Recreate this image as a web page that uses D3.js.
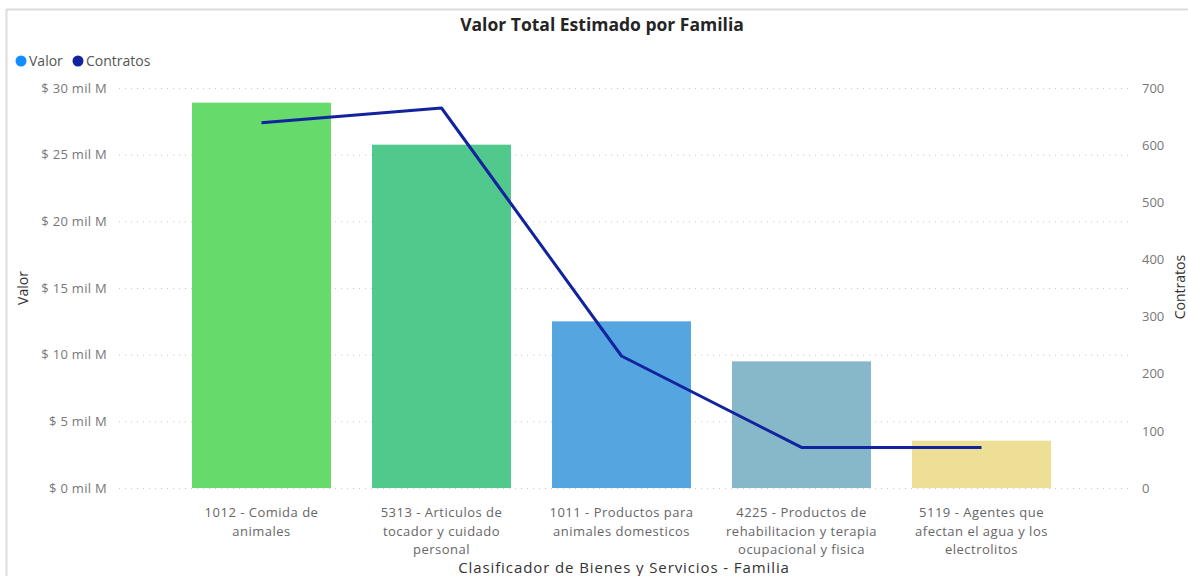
<!DOCTYPE html>
<html>
<head>
<meta charset="utf-8">
<script src="https://cdn.jsdelivr.net/npm/d3@7"></script>
<style>
  body { margin: 0; background: #fff; }
  svg { display: block; }
</style>
</head>
<body>
<script>
// data
const categories = [
  "1012 - Comida de animales",
  "5313 - Articulos de tocador y cuidado personal",
  "1011 - Productos para animales domesticos",
  "4225 - Productos de rehabilitacion y terapia ocupacional y fisica",
  "5119 - Agentes que afectan el agua y los electrolitos"
];
// label lines as wrapped in the picture
const categoryLines = [
  ["1012 - Comida de", "animales"],
  ["5313 - Articulos de", "tocador y cuidado", "personal"],
  ["1011 - Productos para", "animales domesticos"],
  ["4225 - Productos de", "rehabilitacion y terapia", "ocupacional y fisica"],
  ["5119 - Agentes que", "afectan el agua y los", "electrolitos"]
];
const valorMilM = [28.9, 25.75, 12.5, 9.5, 3.55];   // $ mil M
const contratos = [639, 665, 231, 71, 71];
const barColors = ["#66DA6A", "#52C98C", "#55A6E0", "#86B8C9", "#EDDF96"];
const leftTicks = [0, 5, 10, 15, 20, 25, 30];
const rightTicks = [0, 100, 200, 300, 400, 500, 600, 700];

const W = 1188, H = 576;
const font = "'Open Sans', 'Noto Sans', sans-serif";

let svg = d3.select("body").append("svg")
  .attr("width", W).attr("height", H)
  .style("font-family", font);

// frame lines (visual container edge)
svg.append("line").attr("x1", 6).attr("x2", W).attr("y1", 9.5).attr("y2", 9.5)
  .attr("stroke", "#dcdcdc").attr("stroke-width", 2);
svg.append("line").attr("x1", 6.5).attr("x2", 6.5).attr("y1", 9).attr("y2", H)
  .attr("stroke", "#dcdcdc").attr("stroke-width", 2);

// scales
let x = d3.scaleBand()
  .domain(categories)
  .range([171.5, 1071.5])
  .paddingInner(0.228)
  .paddingOuter(0.114);

let yL = d3.scaleLinear().domain([0, 30]).range([488, 88]);
let yR = d3.scaleLinear().domain([0, 700]).range([488, 88]);

// gridlines (dotted)
svg.append("g").selectAll("line")
  .data(leftTicks)
  .join("line")
  .attr("x1", 119).attr("x2", 1128)
  .attr("y1", d => yL(d) + 0.5).attr("y2", d => yL(d) + 0.5)
  .attr("stroke", "#c8c8c8")
  .attr("stroke-width", 1)
  .attr("stroke-dasharray", "1,5");

// left axis labels
let axL = svg.append("g").attr("transform", "translate(107,0)")
  .call(d3.axisLeft(yL).tickValues(leftTicks).tickSize(0).tickPadding(0)
    .tickFormat(d => "$ " + d + " mil M"));
axL.select(".domain").remove();
axL.selectAll("text").attr("fill", "#777").style("font-size", "13px")
  .style("letter-spacing", "0.3px").style("font-family", font);

// right axis labels
let axR = svg.append("g").attr("transform", "translate(1142,0)")
  .call(d3.axisRight(yR).tickValues(rightTicks).tickSize(0).tickPadding(0));
axR.select(".domain").remove();
axR.selectAll("text").attr("fill", "#777").style("font-size", "13px").style("font-family", font);

// bars
svg.append("g").selectAll("rect")
  .data(categories)
  .join("rect")
  .attr("x", d => x(d))
  .attr("width", x.bandwidth())
  .attr("y", (d, i) => yL(valorMilM[i]))
  .attr("height", (d, i) => yL(0) - yL(valorMilM[i]))
  .attr("fill", (d, i) => barColors[i]);

// line
let line = d3.line()
  .x((d, i) => x(categories[i]) + x.bandwidth() / 2)
  .y(d => yR(d));
svg.append("path")
  .datum(contratos)
  .attr("d", line)
  .attr("fill", "none")
  .attr("stroke", "#12239E")
  .attr("stroke-width", 3)
  .attr("stroke-linejoin", "round");

// x category labels
let xl = svg.append("g");
categories.forEach((c, i) => {
  let t = xl.append("text")
    .attr("x", x(c) + x.bandwidth() / 2)
    .attr("y", 517)
    .attr("text-anchor", "middle")
    .attr("fill", "#666")
    .style("font-size", "13px")
    .style("letter-spacing", "0.5px");
  categoryLines[i].forEach((ln, j) => {
    t.append("tspan").attr("x", x(c) + x.bandwidth() / 2).attr("dy", j === 0 ? 0 : 18.5).text(ln);
  });
});

// title
svg.append("text")
  .attr("x", 602).attr("y", 31)
  .attr("text-anchor", "middle")
  .attr("fill", "#252525")
  .style("font-size", "17.5px").style("font-weight", "bold")
  .text("Valor Total Estimado por Familia");

// axis titles
svg.append("text")
  .attr("transform", "translate(28,288) rotate(-90)")
  .attr("text-anchor", "middle")
  .attr("fill", "#333")
  .style("font-size", "14px")
  .text("Valor");
svg.append("text")
  .attr("transform", "translate(1185,287) rotate(-90)")
  .attr("text-anchor", "middle")
  .attr("fill", "#333")
  .style("font-size", "14px")
  .text("Contratos");
svg.append("text")
  .attr("x", 624).attr("y", 573)
  .attr("text-anchor", "middle")
  .attr("fill", "#333")
  .style("font-size", "15px")
  .style("letter-spacing", "0.9px")
  .text("Clasificador de Bienes y Servicios - Familia");

// legend
const legendItems = ["Valor", "Contratos"];
const legendColors = ["#118DFF", "#12239E"];
const legendX = [21, 78];
legendItems.forEach((name, i) => {
  svg.append("circle").attr("cx", legendX[i]).attr("cy", 61).attr("r", 5.5).attr("fill", legendColors[i]);
  svg.append("text").attr("x", legendX[i] + 8).attr("y", 66)
    .attr("fill", "#555").style("font-size", "14px").text(name);
});
</script>
</body>
</html>
